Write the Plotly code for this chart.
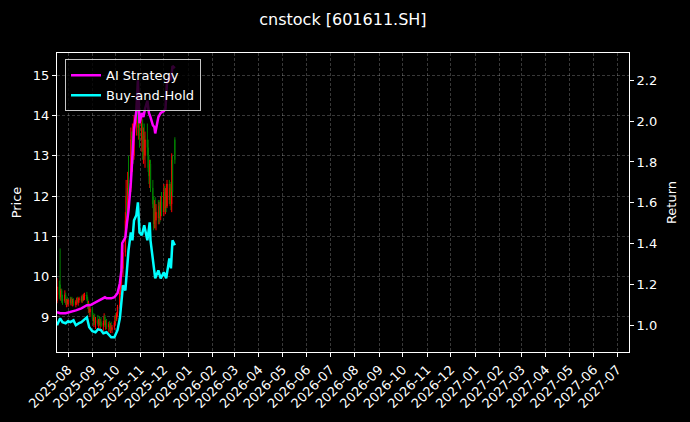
import pandas as pd
import plotly.graph_objects as go

# ---- candlestick data (business days 2025-07-18 .. 2025-12-15) ----
candle_start = "2025-07-18"
candle_end = "2025-12-15"
open_ = [9.40, 9.75, 9.80, 9.50, 9.65, 9.45, 9.40, 9.55, 9.35, 9.40,
         9.32, 9.42, 9.35, 9.45, 9.36, 9.40, 9.30, 9.38, 9.44, 9.36,
         9.42, 9.46, 9.40, 9.50, 9.42, 9.52, 9.55, 9.45, 9.25, 9.30,
         9.12, 9.20, 9.00, 8.90, 8.98, 8.85, 8.92, 8.82, 8.90, 8.80,
         8.88, 8.78, 8.85, 9.00, 8.80, 8.86, 8.75, 8.82, 8.70, 8.78,
         8.68, 8.74, 8.85, 9.00, 8.95, 9.08, 9.25, 9.60, 9.80, 10.30,
         10.20, 10.60, 11.40, 12.00, 11.50, 12.40, 12.20, 13.40, 12.80, 13.50,
         13.00, 13.80, 14.30, 14.20, 13.70, 14.10, 13.40, 13.80, 13.10, 13.50,
         13.00, 13.40, 13.20, 12.70, 12.50, 12.80, 12.20, 11.80, 11.30, 11.70,
         11.40, 11.60, 11.45, 11.75, 11.50, 11.85, 11.60, 12.10, 11.70, 12.00,
         11.75, 12.30, 11.90, 12.20, 11.80, 12.90, 13.40]
high = [9.96, 9.90, 10.70, 9.70, 9.70, 9.55, 9.66, 9.60, 9.45, 9.50,
        9.45, 9.50, 9.48, 9.50, 9.45, 9.46, 9.42, 9.48, 9.50, 9.47,
        9.50, 9.52, 9.55, 9.56, 9.58, 9.60, 9.62, 9.50, 9.40, 9.35,
        9.25, 9.25, 9.10, 9.05, 9.08, 9.00, 9.05, 8.95, 9.02, 8.95,
        9.00, 8.90, 9.09, 9.05, 8.92, 8.95, 8.88, 8.90, 8.85, 8.88,
        8.80, 8.90, 9.05, 9.10, 9.12, 9.30, 9.70, 9.90, 10.40, 10.90,
        10.80, 11.60, 12.40, 12.20, 12.60, 13.00, 13.70, 13.60, 13.80, 13.70,
        14.00, 14.50, 14.87, 14.60, 14.40, 14.30, 13.95, 13.90, 13.70, 13.80,
        13.60, 13.80, 13.40, 13.00, 12.90, 12.90, 12.40, 12.00, 11.90, 11.97,
        11.80, 11.90, 11.85, 11.90, 12.00, 12.10, 12.30, 12.25, 12.20, 12.30,
        12.40, 12.40, 12.30, 12.35, 13.06, 13.00, 13.46]
low = [9.34, 9.45, 9.41, 9.40, 9.35, 9.30, 9.35, 9.30, 9.24, 9.30,
       9.25, 9.30, 9.28, 9.32, 9.26, 9.28, 9.24, 9.30, 9.33, 9.28,
       9.35, 9.36, 9.35, 9.38, 9.40, 9.42, 9.40, 9.20, 9.10, 9.05,
       9.00, 8.95, 8.80, 8.75, 8.80, 8.70, 8.78, 8.70, 8.78, 8.68,
       8.75, 8.65, 8.80, 8.75, 8.68, 8.70, 8.62, 8.65, 8.60, 8.65,
       8.60, 8.68, 8.80, 8.88, 8.90, 9.00, 9.20, 9.55, 9.70, 10.10,
       10.00, 10.50, 11.20, 11.20, 11.40, 12.00, 12.10, 12.50, 12.60, 12.80,
       12.90, 13.50, 13.90, 13.50, 13.40, 13.20, 13.10, 12.90, 12.80, 12.90,
       12.70, 13.00, 12.60, 12.30, 12.20, 12.10, 11.70, 11.15, 11.20, 11.20,
       11.15, 11.30, 11.30, 11.35, 11.40, 11.50, 11.50, 11.60, 11.55, 11.60,
       11.70, 11.80, 11.75, 11.65, 11.60, 12.00, 12.80]
close = [9.75, 9.55, 9.50, 9.65, 9.45, 9.40, 9.55, 9.35, 9.40, 9.32,
         9.42, 9.35, 9.45, 9.36, 9.40, 9.30, 9.38, 9.44, 9.36, 9.42,
         9.46, 9.40, 9.50, 9.42, 9.52, 9.55, 9.45, 9.25, 9.30, 9.12,
         9.20, 9.00, 8.90, 8.98, 8.85, 8.92, 8.82, 8.90, 8.80, 8.88,
         8.78, 8.85, 9.00, 8.80, 8.86, 8.75, 8.82, 8.70, 8.78, 8.68,
         8.74, 8.85, 9.00, 8.95, 9.08, 9.25, 9.60, 9.80, 10.30, 10.20,
         10.60, 11.40, 12.00, 11.50, 12.40, 12.20, 13.40, 12.80, 13.50, 13.00,
         13.80, 14.30, 14.20, 13.70, 14.10, 13.40, 13.80, 13.10, 13.50, 13.00,
         13.40, 13.20, 12.70, 12.50, 12.80, 12.20, 11.80, 11.30, 11.70, 11.40,
         11.60, 11.45, 11.75, 11.50, 11.85, 11.60, 12.10, 11.70, 12.00, 11.75,
         12.30, 11.90, 12.20, 11.80, 12.90, 12.10, 12.90]

# ---- AI Strategy cumulative return ----
ai_dates = ["2025-07-18", "2025-07-22", "2025-07-29", "2025-08-04", "2025-08-11",
            "2025-08-18", "2025-08-25", "2025-08-29", "2025-09-03", "2025-09-08",
            "2025-09-12", "2025-09-17", "2025-09-19", "2025-09-25", "2025-09-29",
            "2025-10-03", "2025-10-06", "2025-10-08", "2025-10-09", "2025-10-13",
            "2025-10-15", "2025-10-17", "2025-10-20", "2025-10-22", "2025-10-23",
            "2025-10-24", "2025-10-27", "2025-10-29", "2025-10-31", "2025-11-03",
            "2025-11-05", "2025-11-07", "2025-11-10", "2025-11-12", "2025-11-14",
            "2025-11-17", "2025-11-19", "2025-11-20", "2025-11-24", "2025-11-27",
            "2025-12-01", "2025-12-03", "2025-12-05", "2025-12-08", "2025-12-10",
            "2025-12-12", "2025-12-15"]
ai_return = [1.064, 1.059, 1.059, 1.064, 1.073,
             1.083, 1.098, 1.098, 1.108, 1.117,
             1.127, 1.137, 1.132, 1.132, 1.137,
             1.157, 1.206, 1.269, 1.402, 1.431,
             1.500, 1.563, 1.700, 1.857, 1.906,
             1.960, 2.050, 2.200, 1.990, 2.040,
             2.020, 2.060, 2.100, 2.040, 2.020,
             1.980, 1.970, 1.940, 2.020, 2.040,
             2.050, 2.060, 2.190, 2.220, 2.200,
             2.270, 2.260]

# ---- Buy-and-Hold cumulative return ----
bh_dates = ["2025-07-18", "2025-07-21", "2025-07-22", "2025-07-25", "2025-07-29",
            "2025-08-01", "2025-08-04", "2025-08-08", "2025-08-11", "2025-08-15",
            "2025-08-18", "2025-08-22", "2025-08-25", "2025-08-28", "2025-09-01",
            "2025-09-05", "2025-09-08", "2025-09-12", "2025-09-15", "2025-09-19",
            "2025-09-22", "2025-09-25", "2025-09-29", "2025-10-03", "2025-10-06",
            "2025-10-08", "2025-10-10", "2025-10-13", "2025-10-15", "2025-10-17",
            "2025-10-20", "2025-10-22", "2025-10-24", "2025-10-27", "2025-10-29",
            "2025-10-31", "2025-11-03", "2025-11-06", "2025-11-10", "2025-11-13",
            "2025-11-14", "2025-11-17", "2025-11-20", "2025-11-24", "2025-11-27",
            "2025-12-01", "2025-12-04", "2025-12-08", "2025-12-10", "2025-12-12",
            "2025-12-15"]
bh_return = [1.000, 1.024, 1.034, 1.015, 1.010,
             1.020, 1.015, 1.024, 1.000, 1.010,
             1.015, 1.029, 1.039, 0.990, 0.971,
             0.966, 0.980, 0.976, 0.961, 0.966,
             0.951, 0.941, 0.941, 0.976, 1.034,
             1.122, 1.196, 1.171, 1.294, 1.367,
             1.455, 1.416, 1.514, 1.539, 1.602,
             1.455, 1.441, 1.490, 1.416, 1.504,
             1.416, 1.328, 1.230, 1.269, 1.230,
             1.260, 1.230, 1.328, 1.279, 1.416,
             1.392]

# ---- axis ticks ----
month_ticks = pd.date_range("2025-08-01", "2027-07-01", freq="MS")
month_labels = [d.strftime("%Y-%m") for d in month_ticks]
price_ticks = [9, 10, 11, 12, 13, 14, 15]
return_ticks = [1.0, 1.2, 1.4, 1.6, 1.8, 2.0, 2.2]

candle_dates = pd.bdate_range(candle_start, candle_end)

FONT = "DejaVu Sans"
fig = go.Figure()
fig.add_trace(go.Candlestick(
    x=candle_dates, open=open_, high=high, low=low, close=close,
    increasing=dict(line=dict(color="red", width=1), fillcolor="red"),
    decreasing=dict(line=dict(color="green", width=1), fillcolor="green"),
    whiskerwidth=0, showlegend=False, yaxis="y", name="Price"))
fig.add_trace(go.Scatter(x=ai_dates, y=ai_return, mode="lines", name="AI Strategy",
                         line=dict(color="#ff00ff", width=2.5), yaxis="y2"))
fig.add_trace(go.Scatter(x=bh_dates, y=bh_return, mode="lines", name="Buy-and-Hold",
                         line=dict(color="#00ffff", width=2.5), yaxis="y2"))

grid = "rgba(255,255,255,0.22)"
fig.update_layout(
    width=690, height=422,
    margin=dict(l=57, r=61, t=53, b=70, autoexpand=False),
    paper_bgcolor="black", plot_bgcolor="black",
    font=dict(family=FONT, color="white", size=13),
    title=dict(text="cnstock [601611.SH]", x=0.497, xanchor="center", y=0.955,
               yanchor="middle", font=dict(size=16, color="white")),
    xaxis=dict(type="date", range=["2025-07-18", "2027-07-16"],
               tickvals=month_ticks, ticktext=month_labels, tickangle=-45,
               showgrid=True, gridcolor=grid, griddash="3px,2px", gridwidth=0.6,
               showline=True, linecolor="white", linewidth=1, mirror=True,
               ticks="outside", ticklen=4, tickcolor="white",
               rangeslider=dict(visible=False), zeroline=False, automargin=False,
               tickfont=dict(size=13)),
    yaxis=dict(range=[8.13, 15.55], tickvals=price_ticks, automargin=False,
               title=dict(text="Price", standoff=8, font=dict(size=13)),
               showgrid=True, gridcolor=grid, griddash="3px,2px", gridwidth=0.6,
               showline=True, linecolor="white", linewidth=1,
               ticks="outside", ticklen=4, tickcolor="white", zeroline=False),
    yaxis2=dict(range=[0.869, 2.334], tickvals=return_ticks, automargin=False,
                ticktext=[f"{v:.1f}" for v in return_ticks],
                title=dict(text="Return", standoff=10, font=dict(size=13)),
                overlaying="y", side="right", showgrid=False,
                showline=True, linecolor="white", linewidth=1,
                ticks="outside", ticklen=4, tickcolor="white", zeroline=False),
    legend=dict(x=0.014, y=0.979, xanchor="left", yanchor="top",
                bgcolor="rgba(0,0,0,0.8)", bordercolor="rgba(220,220,220,0.9)",
                borderwidth=1, font=dict(size=13, color="white"),
                tracegroupgap=0, itemwidth=30),
    showlegend=True,
)

fig.write_html(
    "out.html",
    config={"displayModeBar": False},
    post_script="document.body.style.margin='0';document.body.style.padding='0';"
                "document.body.style.background='black';",
)
